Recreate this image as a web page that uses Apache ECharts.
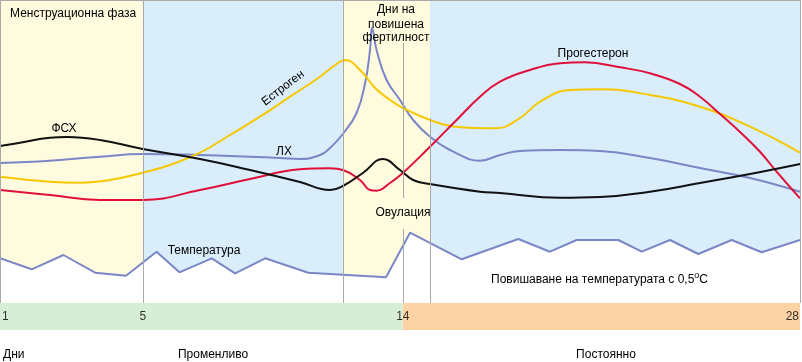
<!DOCTYPE html>
<html><head><meta charset="utf-8">
<script src="https://cdn.jsdelivr.net/npm/echarts@6/dist/echarts.min.js"></script>
<style>html,body{margin:0;padding:0;background:#fff}#c{width:802px;height:362px}</style>
</head><body><div id="c"></div><script>
// x: cycle position (day scale), y: relative level
const fsh = [[0,157],[0.7,160.3],[1.75,165.3],[2.35,166],[3.5,163],[5.0,154],[7.0,144],[8.75,133],[10.5,121],[11.55,113],[12.0,117],[12.7,130],[13.4,144],[14.0,133],[14.46,123],[15.05,119],[16.8,111.3],[17.5,110],[19.6,105.3],[21.0,106],[22.75,111.3],[24.5,120],[26.25,129],[28,139]];
const lh = [[0,140],[1.75,142.3],[3.5,146.3],[5.0,149],[7.0,148],[8.75,146.3],[9.8,145],[10.5,144],[11.2,148],[11.55,155],[12.0,169],[12.48,190],[12.78,220],[12.95,253],[13.02,275],[13.18,253],[13.53,223],[14.0,203],[14.46,183],[15.05,166.3],[15.98,149.7],[16.8,142.3],[17.5,148],[18.2,152],[19.6,153],[21.0,152],[22.75,145],[24.5,135],[26.25,125],[28,111.3]];
const estrogen = [[0,126.3],[1.75,121.3],[2.8,120.3],[3.85,123],[5.0,130.3],[5.95,138],[7.0,150.3],[8.05,168],[9.1,186.3],[10.15,206.3],[11.2,226.3],[11.73,238],[12.08,243],[12.6,233],[13.13,215],[13.65,203],[14.1,195],[15.05,183],[15.93,176.3],[17.33,174.7],[18.2,185],[18.9,201.3],[19.95,213],[21.0,213.7],[22.75,208],[24.5,196.3],[26.25,176.3],[28,150.3]];
const progesterone = [[0,113],[1.75,108],[3.5,103],[5.0,103],[7.0,113],[8.75,124],[10.5,133.7],[11.55,134.7],[12.0,133],[12.6,123],[12.95,113],[13.18,112.3],[13.65,120],[14.1,130],[15.05,156.3],[15.98,183],[16.8,206.3],[17.5,221.3],[18.55,233],[19.6,239.7],[20.48,240.7],[21.7,235.7],[22.75,229.7],[23.8,219],[24.5,206.3],[25.2,189],[25.9,171],[26.6,151.3],[27.18,131.3],[28,104.7]];
const temperature = [[0,44.7],[1.11,33.7],[2.22,48],[3.33,30.3],[4.41,27.3],[5.48,51.3],[6.28,30.7],[7.41,44.7],[8.23,29.7],[9.28,44.7],[10.79,30.3],[13.51,25.7],[14.35,70.3],[16.16,43.7],[18.14,64],[19.25,51.3],[20.18,63],[21.64,63],[22.46,51.3],[23.45,63],[24.44,49],[25.61,63],[26.66,50.7],[28,63]];
const tickValues = [0, 5, 14.1, 28];
const tickLabels = ['1', '5', '14', '28'];
const phaseStarts = [0, 5, 12, 15.05];
const phaseEnds = [5, 12, 15.05, 28];
const bandStarts = [0, 14.1];
const bandEnds = [14.1, 28];
const TOP = 303, BAND = -27;

const phaseColors = ['#fffbde', '#d9edfa', '#fffbde', '#d9edfa'];
const bandColors = ['#d6eed5', '#fcd3a4'];
const FONT = '"Liberation Sans", Arial, sans-serif';

const areas = phaseStarts.map((s, i) => [{xAxis: s, yAxis: 0, itemStyle: {color: phaseColors[i]}}, {xAxis: phaseEnds[i], yAxis: TOP}])
  .concat(bandStarts.map((s, i) => [{xAxis: s, yAxis: BAND, itemStyle: {color: bandColors[i]}}, {xAxis: bandEnds[i], yAxis: 0}]));

const seg = (x0, y0, x1, y1) => [{coord: [x0, y0]}, {coord: [x1, y1]}];
const vlines = [
  seg(5, 0, 5, TOP), seg(12, 0, 12, TOP),
  seg(14.1, 105, 14.1, 260), seg(14.1, 0, 14.1, 74),
  seg(15.05, 0, 15.05, 185),
  seg(0, TOP, 28, TOP), seg(0, 0, 0, TOP), seg(28, 0, 28, TOP)
];

const curve = (name, data, color) => ({
  name, type: 'line', data, smooth: 0.45, symbol: 'none', z: 4,
  lineStyle: {color, width: 2}, silent: true
});

const txt = (text, x, y, extra) => ({
  type: 'text', x, y, z: 100,
  style: Object.assign({text, font: '12px ' + FONT, fill: '#000', textAlign: 'left', textVerticalAlign: 'middle'}, extra || {})
});

const chart = echarts.init(document.getElementById('c'), null, {renderer: 'canvas'});
chart.setOption({
  animation: false,
  grid: {left: 0, right: 2, top: 0, bottom: 32},
  xAxis: {type: 'value', min: 0, max: 28, show: false},
  yAxis: {type: 'value', min: BAND, max: TOP, show: false},
  series: [
    {type: 'line', data: [[0, 0]], symbol: 'none', lineStyle: {width: 0}, z: 1, silent: true,
      markArea: {silent: true, data: areas}},
    {name: 'Температура', type: 'line', data: temperature, symbol: 'none', z: 2, silent: true,
      lineStyle: {color: '#7b86c6', width: 2},
      areaStyle: {color: '#ffffff', opacity: 1, origin: 0}},
    {type: 'line', data: [[0, 0]], symbol: 'none', lineStyle: {width: 0}, z: 3, silent: true,
      markLine: {silent: true, symbol: ['none', 'none'], label: {show: false},
        lineStyle: {color: '#a9a9a9', width: 1, type: 'solid'}, data: vlines}},
    curve('ЛХ', lh, '#7b86c6'),
    curve('Естроген', estrogen, '#f7c800'),
    curve('Прогестерон', progesterone, '#e0103a'),
    curve('ФСХ', fsh, '#111111'),
    {type: 'scatter', symbolSize: 0, z: 5, silent: true,
      data: tickValues.map((v, i) => ({value: [v, -13.5], name: tickLabels[i],
        label: {align: i === 0 ? 'left' : (i === tickValues.length - 1 ? 'right' : 'center'), offset: [i === 0 ? 2 : (i === tickValues.length - 1 ? -1 : 0), 0]}})),
      label: {show: true, position: 'inside', formatter: p => p.name, color: '#000', fontSize: 12, fontFamily: FONT}}
  ],
  graphic: [
    txt('Менструационна фаза', 10, 14),
    txt('Дни на', 396, 10, {textAlign: 'center'}),
    txt('повишена', 396, 25, {textAlign: 'center'}),
    txt('фертилност', 396, 38, {textAlign: 'center'}),
    {type: 'text', x: 283, y: 88, rotation: 37.5 * Math.PI / 180, z: 100,
      style: {text: 'Естроген', font: '12px ' + FONT, fill: '#000', textAlign: 'center', textVerticalAlign: 'middle'}},
    txt('ФСХ', 64, 129, {textAlign: 'center'}),
    txt('ЛХ', 284, 152, {textAlign: 'center'}),
    txt('Прогестерон', 593, 54, {textAlign: 'center'}),
    txt('Овулация', 403, 213, {textAlign: 'center'}),
    txt('Температура', 204, 251, {textAlign: 'center'}),
    {type: 'text', x: 491, y: 280, z: 100,
      style: {text: '{a|Повишаване на температурата с 0,5}{s|o}{a|C}', textVerticalAlign: 'middle',
        rich: {a: {font: '12px ' + FONT, fill: '#000'}, s: {font: '9px ' + FONT, fill: '#000', padding: [0, 0, 8, 0]}}}},
    txt('Дни', 3, 355),
    txt('Променливо', 213, 355, {textAlign: 'center'}),
    txt('Постоянно', 606, 355, {textAlign: 'center'})
  ]
});
</script></body></html>
